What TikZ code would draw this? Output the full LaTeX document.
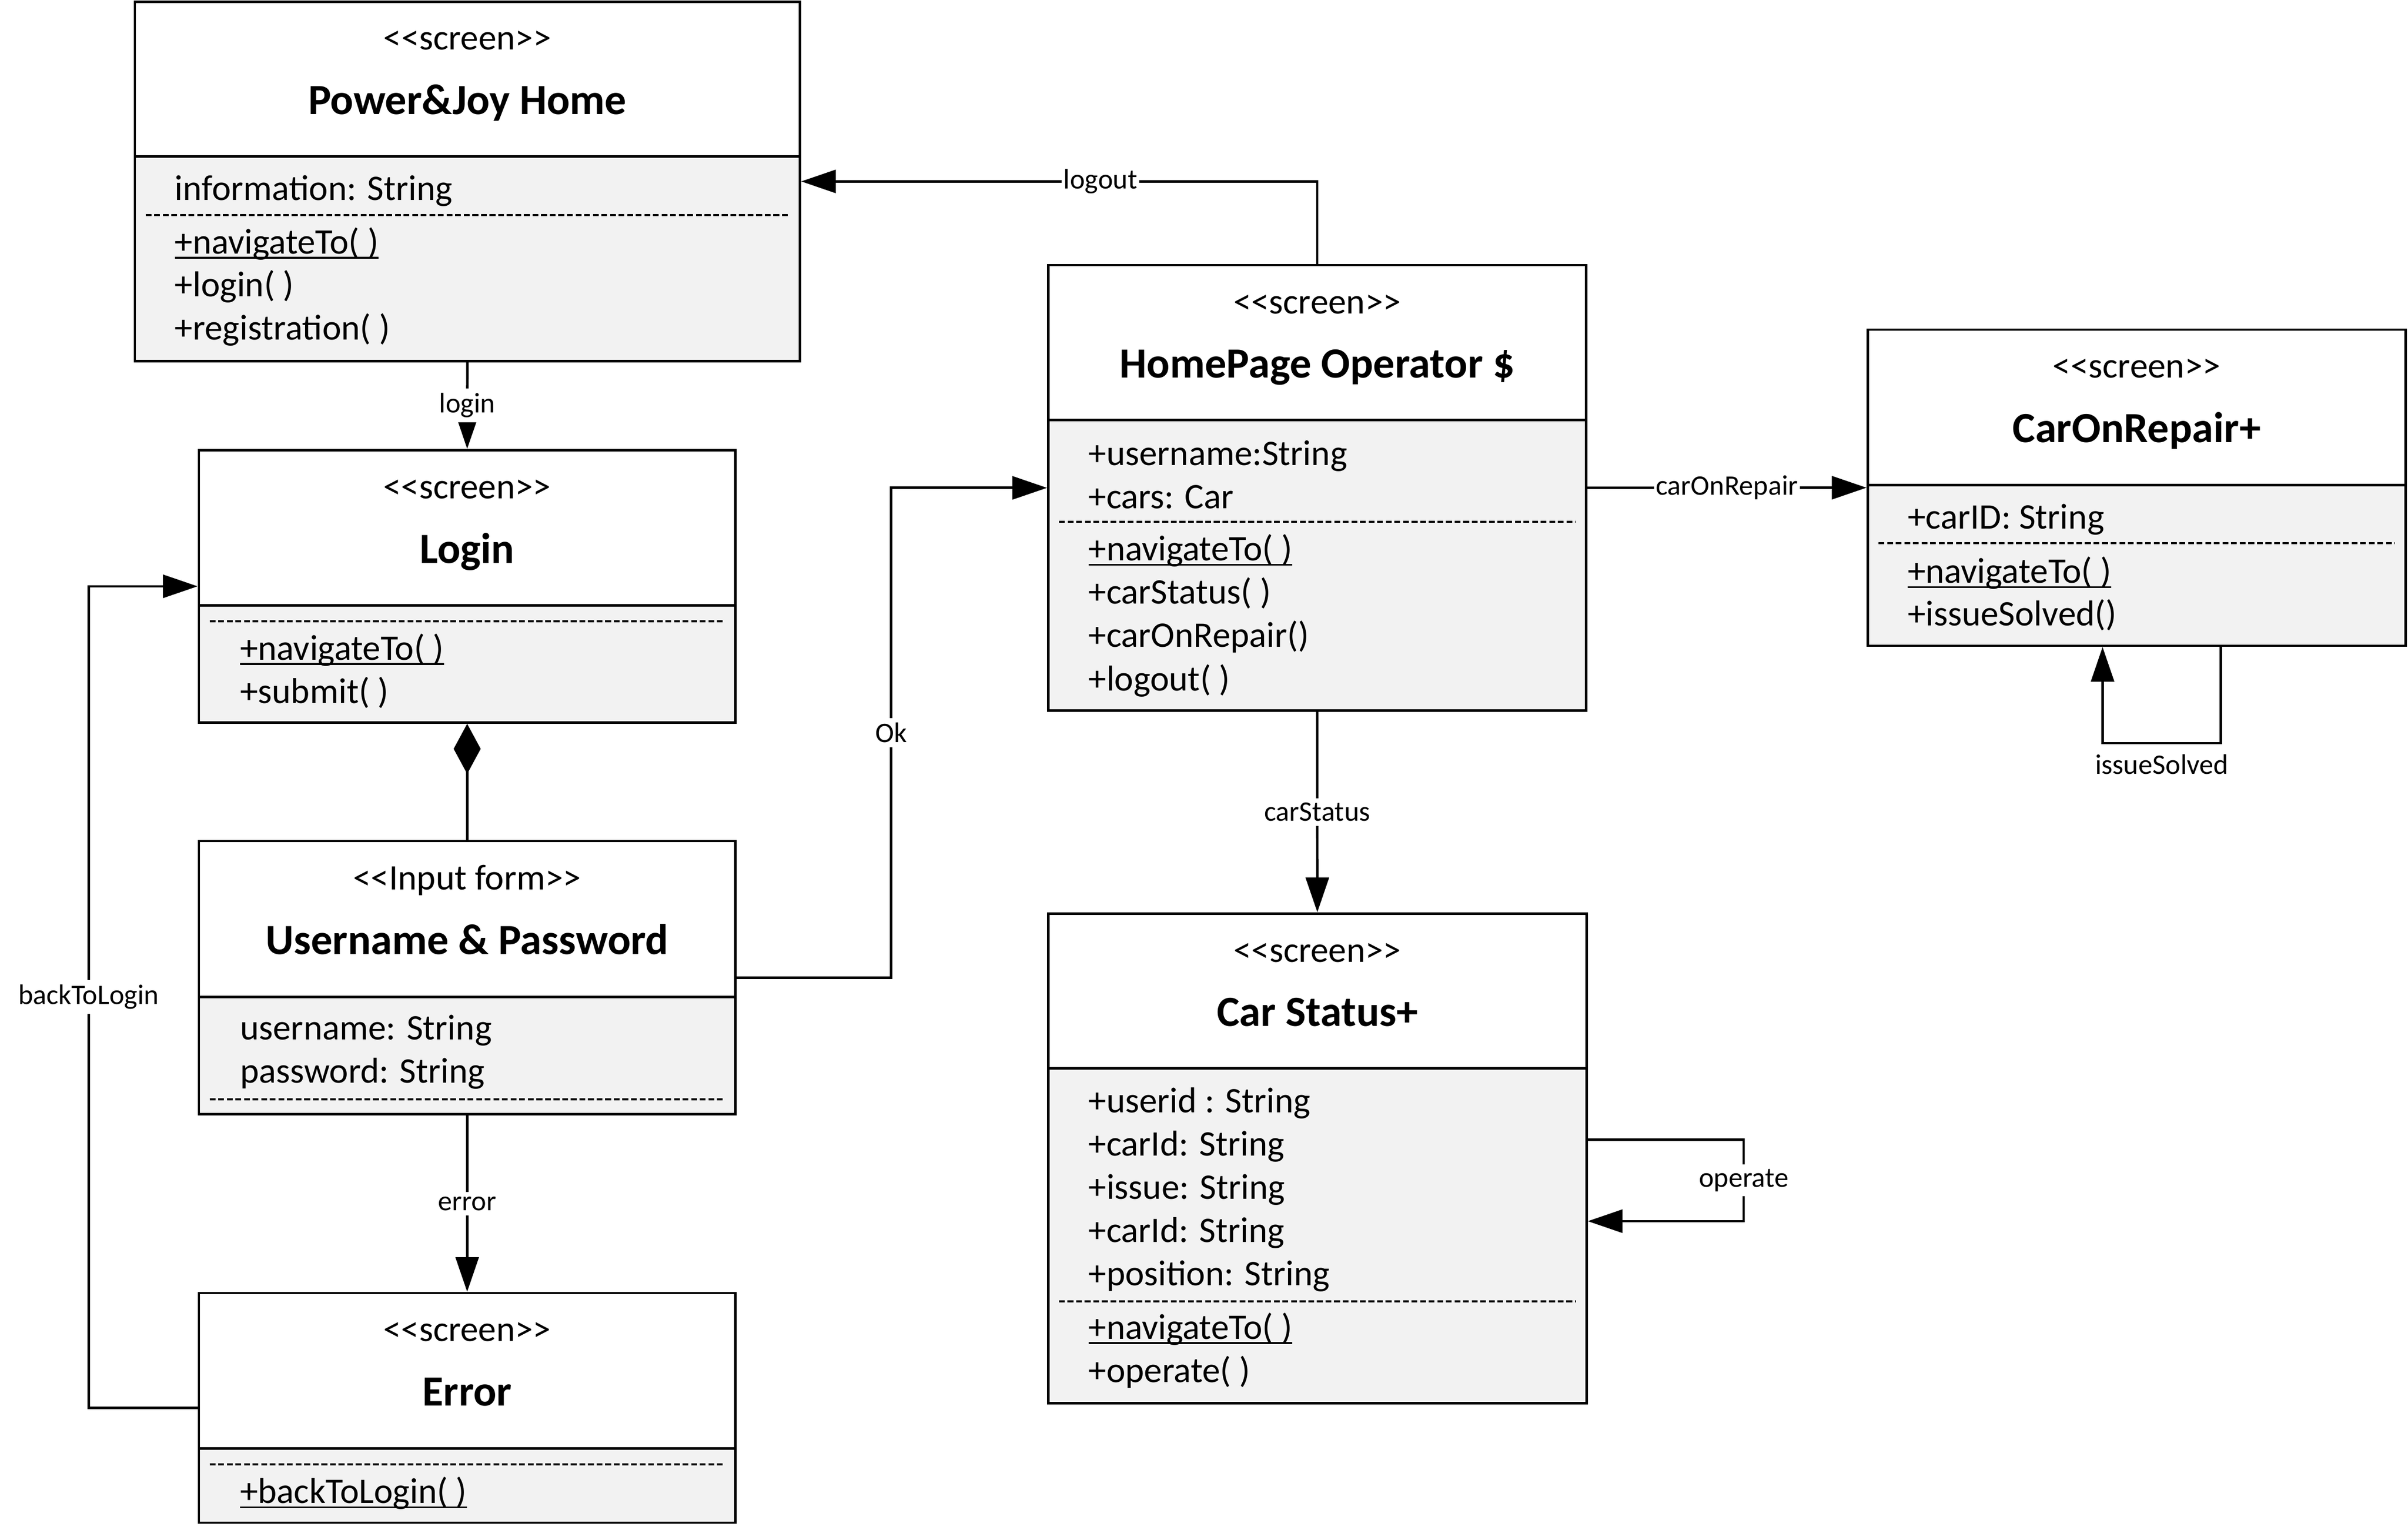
\documentclass[tikz,border=0pt]{standalone}
\usepackage{fontspec}
\setmainfont{Carlito}
\usepackage{tikz}
\usetikzlibrary{arrows.meta,calc,backgrounds}

\newcommand{\staticop}[1]{\setbox0=\hbox{#1}\rlap{\rule[-1.6pt]{\wd0}{0.55pt}}\box0}
\newcommand{\stereotype}[1]{<{}<#1>{}>}

\tikzset{
  classbox/.style={draw, line width=0.8pt, inner sep=0pt},
  hdrline/.style={line width=0.8pt},
  bodyfill/.style={fill=black!5},
  stereo/.style={anchor=base, inner sep=0pt, yshift=-0.5pt, font=\fontsize{11.7pt}{14pt}\selectfont},
  classname/.style={anchor=base, inner sep=0pt, yshift=-0.5pt, font=\fontsize{14pt}{17pt}\selectfont\bfseries},
  member/.style={anchor=base west, inner sep=0pt, yshift=-0.5pt, font=\fontsize{11.7pt}{14pt}\selectfont},
  sepline/.style={line width=0.7pt, dash pattern=on 1.9pt off 0.9pt},
  conn/.style={line width=0.8pt},
  arr/.style={conn, -{Triangle[length=11.3pt,width=7.5pt]}},
  lbl/.style={fill=white, inner xsep=0.6pt, inner ysep=1.5pt, font=\fontsize{9.2pt}{11pt}\selectfont},
}

\begin{document}
\begin{tikzpicture}[x=0.5pt,y=-0.5pt]
              \useasboundingbox (0,0) rectangle (1568,996);
              \begin{scope}[on background layer]
                \fill[bodyfill] (87.8,101.9) rectangle (520.9,235);
                \fill[bodyfill] (682.6,273.5) rectangle (1032.8,462.6);
                \fill[bodyfill] (1216.2,315.8) rectangle (1566.4,420.4);
                \fill[bodyfill] (129.5,394) rectangle (478.9,470.4);
                \fill[bodyfill] (129.5,649) rectangle (478.9,725.4);
                \fill[bodyfill] (129.5,942.9) rectangle (478.9,991.3);
                \fill[bodyfill] (682.5,695.4) rectangle (1033.1,913.5);
              \end{scope}

              \node[classbox, minimum width=216.55pt, minimum height=116.9pt] (home) at (304.35,118.1) {};
              \node[stereo] (homeS) at (304.35,31.5) {\stereotype{screen}};
              \node[classname] (homeT) at (304.35,73.4) {Power\&Joy Home};
              \draw[hdrline] (87.8,101.9) -- (520.9,101.9);
              \node[member] (homeA0) at (113.5,129.2) {information: String};
              \draw[sepline] (94.8,140.1) -- (513.9,140.1);
              \foreach \m [count=\i from 0] in {{\staticop{+navigateTo( )}}, +login( ), +registration( )}
                \node[member] (homeM\i) at (113.5,164.2+28*\i) {\m};

              \node[classbox, minimum width=175.1pt, minimum height=145pt] (operator) at (857.7,317.6) {};
              \node[stereo] (operatorS) at (857.7,203.1) {\stereotype{screen}};
              \node[classname] (operatorT) at (857.7,245.1) {HomePage Operator \$};
              \draw[hdrline] (682.6,273.5) -- (1032.8,273.5);
              \foreach \m [count=\i from 0] in {+username:String, +cars: Car}
                \node[member] (operatorA\i) at (708.4,301.8+28.15*\i) {\m};
              \draw[sepline] (689.6,339.7) -- (1025.8,339.7);
              \foreach \m [count=\i from 0] in {{\staticop{+navigateTo( )}}, +carStatus( ), +carOnRepair(), +logout( )}
                \node[member] (operatorM\i) at (708.4,364.1+28.15*\i) {\m};

              \node[classbox, minimum width=175.1pt, minimum height=102.9pt] (repair) at (1391.3,317.5) {};
              \node[stereo] (repairS) at (1391.3,245.1) {\stereotype{screen}};
              \node[classname] (repairT) at (1391.3,287.1) {CarOnRepair+};
              \draw[hdrline] (1216.2,315.8) -- (1566.4,315.8);
              \node[member] (repairA0) at (1241.8,343.3) {+carID: String};
              \draw[sepline] (1223.2,353.7) -- (1559.4,353.7);
              \foreach \m [count=\i from 0] in {{\staticop{+navigateTo( )}}, +issueSolved()}
                \node[member] (repairM\i) at (1241.8,378.6+27.7*\i) {\m};

              \node[classbox, minimum width=174.7pt, minimum height=88.7pt] (login) at (304.2,381.7) {};
              \node[stereo] (loginS) at (304.2,323.5) {\stereotype{screen}};
              \node[classname] (loginT) at (304.2,365.5) {Login};
              \draw[hdrline] (129.5,394) -- (478.9,394);
              \draw[sepline] (136.5,404.5) -- (471.9,404.5);
              \foreach \m [count=\i from 0] in {{\staticop{+navigateTo( )}}, +submit( )}
                \node[member] (loginM\i) at (156,428.6+28.2*\i) {\m};

              \node[classbox, minimum width=174.7pt, minimum height=88.95pt] (user) at (304.2,636.45) {};
              \node[stereo] (userS) at (304.2,578.2) {\stereotype{Input form}};
              \node[classname] (userT) at (304.2,620.2) {Username \& Password};
              \draw[hdrline] (129.5,649) -- (478.9,649);
              \foreach \m [count=\i from 0] in {username: String, password: String}
                \node[member] (userA\i) at (156,675.9+28.1*\i) {\m};
              \draw[sepline] (136.5,715.6) -- (471.9,715.6);

              \node[classbox, minimum width=174.7pt, minimum height=74.75pt] (error) at (304.2,916.55) {};
              \node[stereo] (errorS) at (304.2,872.3) {\stereotype{screen}};
              \node[classname] (errorT) at (304.2,914.3) {Error};
              \draw[hdrline] (129.5,942.9) -- (478.9,942.9);
              \draw[sepline] (136.5,953.2) -- (471.9,953.2);
              \node[member] (errorM0) at (156,977.6) {\staticop{+backToLogin( )}};

              \node[classbox, minimum width=175.3pt, minimum height=159.4pt] (status) at (857.8,754.1) {};
              \node[stereo] (statusS) at (857.8,625.2) {\stereotype{screen}};
              \node[classname] (statusT) at (857.8,667.2) {Car Status+};
              \draw[hdrline] (682.5,695.4) -- (1033.1,695.4);
              \foreach \m [count=\i from 0] in {+userid : String, +carId: String, +issue: String, +carId: String, +position: String}
                \node[member] (statusA\i) at (708.4,723.4+28.15*\i) {\m};
              \draw[sepline] (689.5,847.1) -- (1026.1,847.1);
              \foreach \m [count=\i from 0] in {{\staticop{+navigateTo( )}}, +operate( )}
                \node[member] (statusM\i) at (708.4,870.7+28.1*\i) {\m};

              \draw[arr] (operator.north) |- node[lbl, pos=0.71] (lLogout) {logout} (home.east);
              \draw[arr] (home.south) -- node[lbl] (lLogin) {login} (login.north);
              \draw[conn, {Diamond[length=16.3pt,width=8.8pt]}-] (login.south) -- (user.north);
              \draw[arr] (user.east) -- ++(100.5,0) |- node[lbl, pos=0.25] (lOk) {Ok} (operator.west);
              \draw[arr] (operator.east) -- node[lbl] (lRepair) {carOnRepair} (repair.west);
              \draw[arr] (operator.south) -- node[lbl] (lStatus) {carStatus} (status.north);
              \draw[arr] ($(repair.south)+(54.9,0)$) -- ++(0,62.6) -| node[lbl, below=1.8pt, pos=0.25] (lIssue) {issueSolved} ($(repair.south)+(-22.2,0)$);
              \draw[arr] ($(status.east)+(0,-12.2)$) -- ++(101.5,0) |- node[lbl, pos=0.25] (lOperate) {operate} ($(status.east)+(0,40.9)$);
              \draw[arr] (user.south) -- node[lbl] (lError) {error} (error.north);
              \draw[arr] (error.west) -- ++(-71,0) |- node[lbl, pos=0.25] (lBack) {backToLogin} (login.west);
            \end{tikzpicture}
\end{document}
